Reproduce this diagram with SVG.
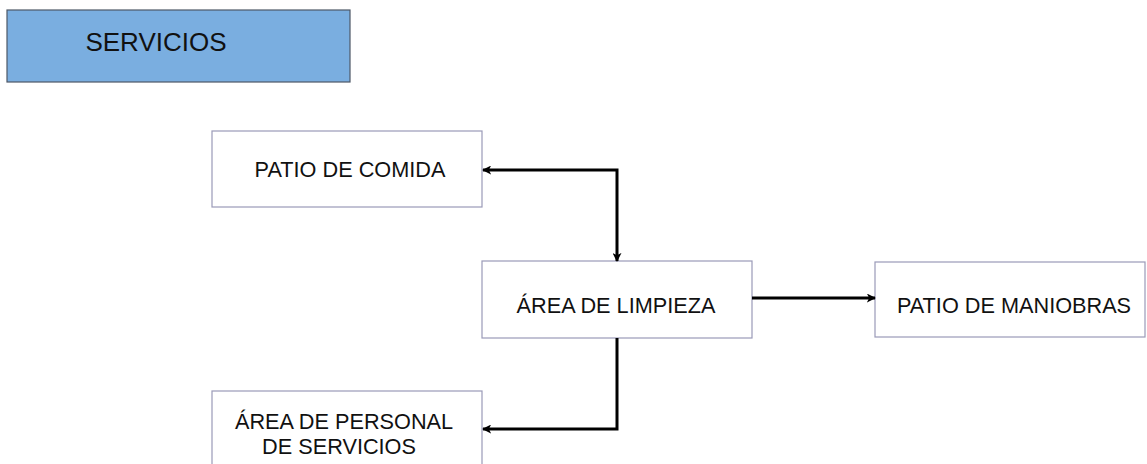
<svg xmlns="http://www.w3.org/2000/svg" width="1147" height="464" viewBox="0 0 1147 464">
<defs>
<style>
.box{fill:#ffffff;stroke:#9a9ab8;stroke-width:1.2}
.hdr{fill:#7aaee0;stroke:#4d5866;stroke-width:1.2}
.t{font-family:"Liberation Sans",Arial,sans-serif;font-size:21.7px;fill:#111;text-anchor:middle}
.c{fill:none;stroke:#000;stroke-width:3}
</style>
<marker id="ah" viewBox="0 0 10 10" refX="9" refY="5" markerWidth="3" markerHeight="3" orient="auto-start-reverse" markerUnits="strokeWidth">
<path d="M0,0 L10,5 L0,10 L2.5,5 z" fill="#000"/>
</marker>
</defs>
<rect width="1147" height="464" fill="#fff"/>
<g id="servicios">
<rect class="hdr" x="7" y="10" width="343" height="72"/>
<text x="156" y="51" class="t" style="font-size:26px">SERVICIOS</text>
</g>
<g id="patio-comida">
<rect class="box" x="212" y="131" width="270" height="76"/>
<text x="350" y="177" class="t">PATIO DE COMIDA</text>
</g>
<g id="area-limpieza">
<rect class="box" x="482" y="261" width="270" height="77"/>
<text x="616" y="313" class="t">ÁREA DE LIMPIEZA</text>
</g>
<g id="patio-maniobras">
<rect class="box" x="875" y="262" width="270" height="75"/>
<text x="1014" y="313" class="t">PATIO DE MANIOBRAS</text>
</g>
<g id="area-personal">
<rect class="box" x="212" y="391" width="270" height="80"/>
<text x="344" y="429" class="t">ÁREA DE PERSONAL</text>
<text x="339" y="454" class="t">DE SERVICIOS</text>
</g>
<g id="connectors">
<path class="c" d="M483,170 H617 V261" marker-start="url(#ah)" marker-end="url(#ah)"/>
<path class="c" d="M752,298 H875" marker-end="url(#ah)"/>
<path class="c" d="M617,338 V429 H483" marker-end="url(#ah)"/>
</g>
</svg>
